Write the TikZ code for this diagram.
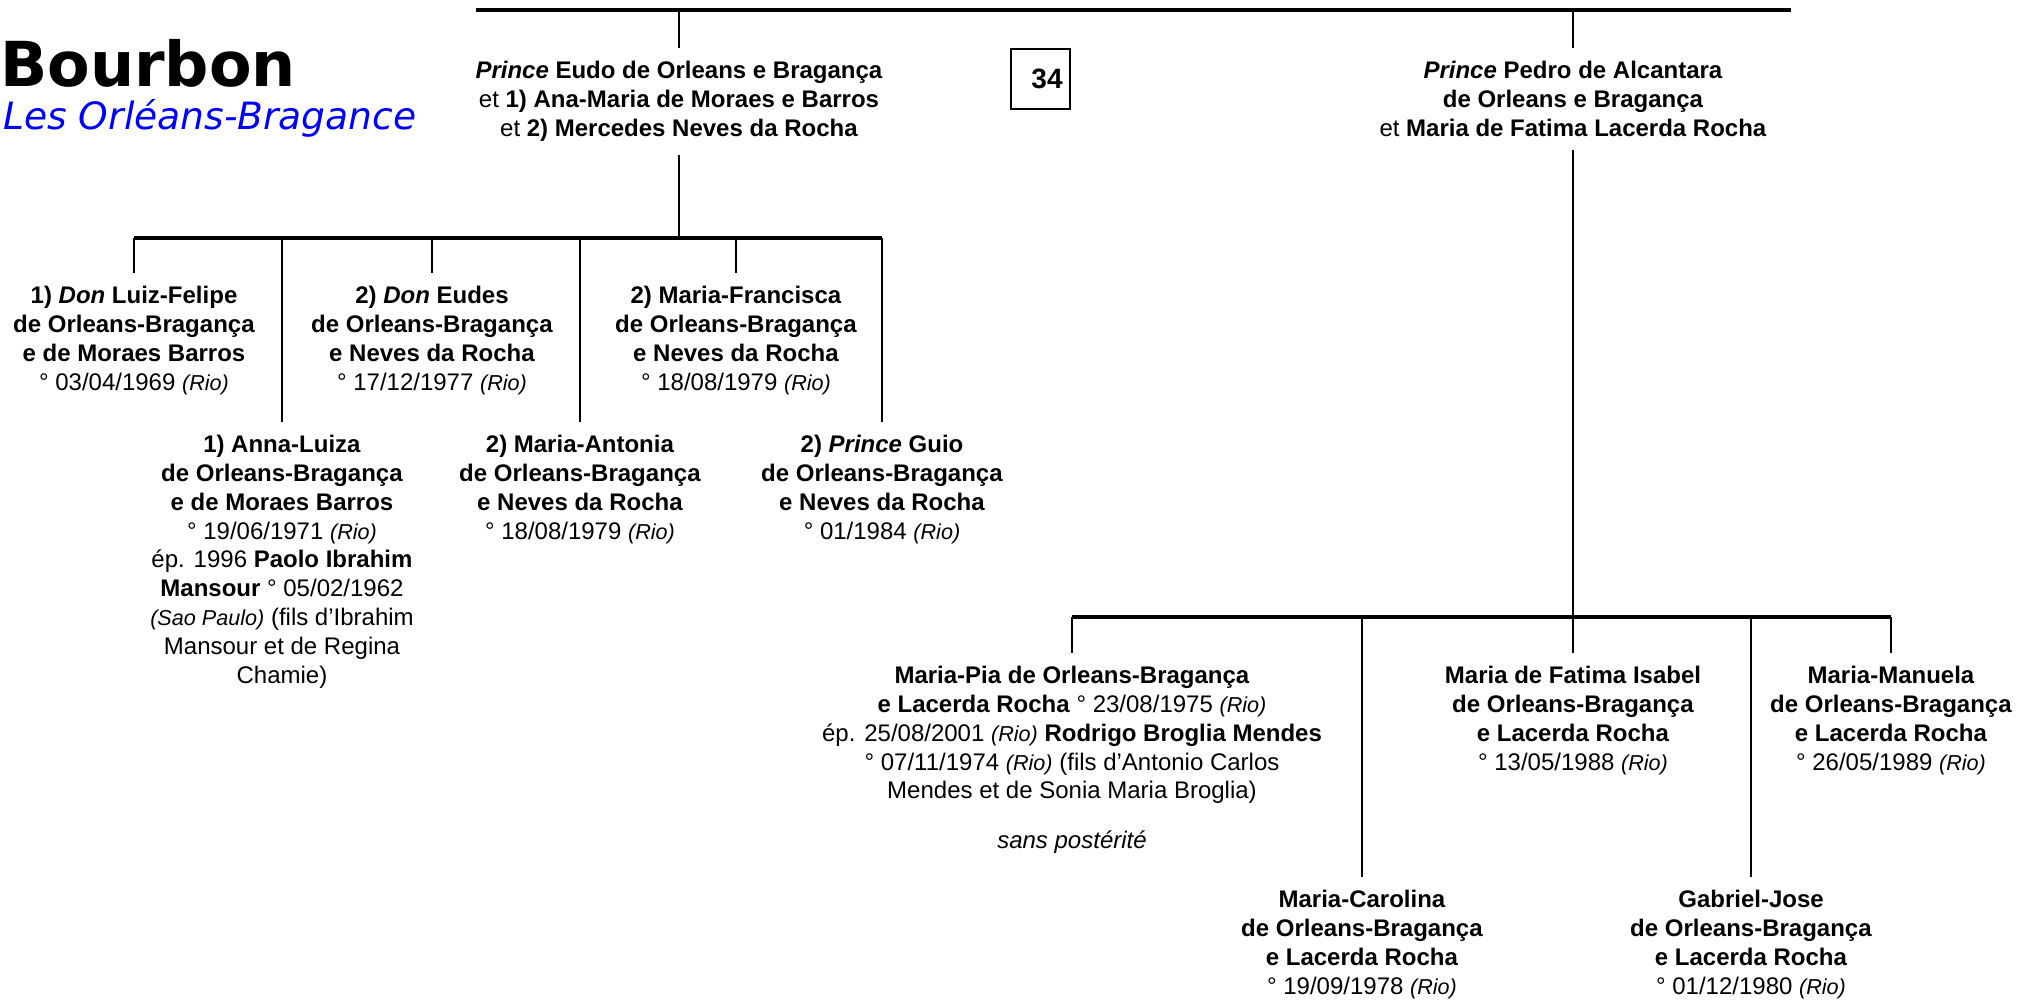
\documentclass[tikz,border=0pt]{standalone}
\usepackage{fontspec}
\setmainfont{Liberation Sans}
\newfontfamily\titlefont[BoldFont={DejaVu Sans Bold},ItalicFont={DejaVu Sans Oblique}]{DejaVu Sans}
\usetikzlibrary{positioning}
\definecolor{titleblue}{RGB}{0,0,255}
\newcommand{\lieu}[1]{{\fontsize{10.8}{12}\selectfont\itshape(#1)}}
\newcommand{\rang}[1]{\textbf{\textit{#1}}}
\tikzset{
  pers/.style={align=center,anchor=north,inner xsep=2pt,inner ysep=6.5pt,
    font=\fontsize{12}{14.4}\selectfont},
  bar/.style={line width=1.6pt},
  lien/.style={line width=1.1pt},
  numbox/.style={draw,line width=0.8pt,minimum width=29.5pt,minimum height=30pt,
    inner sep=0pt,font=\bfseries\fontsize{14}{16}\selectfont},
}

\begin{document}
\begin{tikzpicture}[x=0.5pt,y=-0.5pt]
  \useasboundingbox (0,0) rectangle (2017,1000);
  % title
  \node[anchor=base west,inner sep=0pt,font=\titlefont\bfseries\fontsize{31}{36}\selectfont]
       (bourbon) at (0,87) {Bourbon};
  \node[anchor=base west,inner sep=0pt,text=titleblue,
        font=\titlefont\itshape\fontsize{18.8}{22}\selectfont]
       (branche) at (3,130) {Les Orléans-Bragance};
  \node[numbox] (num) at (1040.5,79) {\hspace*{6.5pt}\raisebox{-7pt}{34}};
  % parents
  \node[pers] (eudo) at (679,48)
       {\rang{Prince} \textbf{Eudo de Orleans e Bragança}\\
        et \textbf{1) Ana-Maria de Moraes e Barros}\\
        et \textbf{2) Mercedes Neves da Rocha}};
  \node[pers] (pedro) at (1573,48)
       {\rang{Prince} \textbf{Pedro de Alcantara}\\
        \textbf{de Orleans e Bragança}\\
        et \textbf{Maria de Fatima Lacerda Rocha}};
  \coordinate (topL) at (476,10);
  \coordinate (topR) at (1791,10);
  \draw[bar] (topL) -- (topR);
  \draw[lien] (eudo.north) -- (eudo.north |- topL);
  \draw[lien] (pedro.north) -- (pedro.north |- topL);
  % children of Eudo
  \node[pers] (lf) at (134,273)
       {\textbf{1) \textit{Don} Luiz-Felipe}\\ \textbf{de Orleans-Bragança}\\
        \textbf{e de Moraes Barros}\\ ° 03/04/1969 \lieu{Rio}};
  \node[pers] (eudes) at (432,273)
       {\textbf{2) \textit{Don} Eudes}\\ \textbf{de Orleans-Bragança}\\
        \textbf{e Neves da Rocha}\\ ° 17/12/1977 \lieu{Rio}};
  \node[pers] (mfr) at (736,273)
       {\textbf{2) Maria-Francisca}\\ \textbf{de Orleans-Bragança}\\
        \textbf{e Neves da Rocha}\\ ° 18/08/1979 \lieu{Rio}};
  \node[pers] (al) at (282,422)
       {\textbf{1) Anna-Luiza}\\ \textbf{de Orleans-Bragança}\\
        \textbf{e de Moraes Barros}\\ ° 19/06/1971 \lieu{Rio}\\
        ép. 1996 \textbf{Paolo Ibrahim}\\ \textbf{Mansour} ° 05/02/1962\\
        \lieu{Sao Paulo} (fils d’Ibrahim\\ Mansour et de Regina\\ Chamie)};
  \node[pers] (mant) at (580,422)
       {\textbf{2) Maria-Antonia}\\ \textbf{de Orleans-Bragança}\\
        \textbf{e Neves da Rocha}\\ ° 18/08/1979 \lieu{Rio}};
  \node[pers] (guio) at (882,422)
       {\textbf{2) \textit{Prince} Guio}\\ \textbf{de Orleans-Bragança}\\
        \textbf{e Neves da Rocha}\\ ° 01/1984 \lieu{Rio}};
  \coordinate (barE) at (679,238);
  \draw[bar] (lf.north |- barE) -- (guio.north |- barE);
  \draw[lien] (eudo.south) -- (eudo.south |- barE);
  \foreach \c in {lf,eudes,mfr,al,mant,guio}
    \draw[lien] (\c.north) -- (\c.north |- barE);
  % children of Pedro
  \node[pers] (mpia) at (1072,653)
       {\textbf{Maria-Pia de Orleans-Bragança}\\
        \textbf{e Lacerda Rocha} ° 23/08/1975 \lieu{Rio}\\
        ép. 25/08/2001 \lieu{Rio} \textbf{Rodrigo Broglia Mendes}\\
        ° 07/11/1974 \lieu{Rio} (fils d’Antonio Carlos\\
        Mendes et de Sonia Maria Broglia)\\[10.5pt]
        \textit{sans postérité}};
  \node[pers] (mfat) at (1573,653)
       {\textbf{Maria de Fatima Isabel}\\ \textbf{de Orleans-Bragança}\\
        \textbf{e Lacerda Rocha}\\ ° 13/05/1988 \lieu{Rio}};
  \node[pers] (mman) at (1891,653)
       {\textbf{Maria-Manuela}\\ \textbf{de Orleans-Bragança}\\
        \textbf{e Lacerda Rocha}\\ ° 26/05/1989 \lieu{Rio}};
  \node[pers] (mcar) at (1362,877)
       {\textbf{Maria-Carolina}\\ \textbf{de Orleans-Bragança}\\
        \textbf{e Lacerda Rocha}\\ ° 19/09/1978 \lieu{Rio}};
  \node[pers] (gab) at (1751,877)
       {\textbf{Gabriel-Jose}\\ \textbf{de Orleans-Bragança}\\
        \textbf{e Lacerda Rocha}\\ ° 01/12/1980 \lieu{Rio}};
  \coordinate (barP) at (1573,617);
  \draw[bar] (mpia.north |- barP) -- (mman.north |- barP);
  \draw[lien] (pedro.south) -- (pedro.south |- barP);
  \foreach \c in {mpia,mcar,mfat,gab,mman}
    \draw[lien] (\c.north) -- (\c.north |- barP);
\end{tikzpicture}
\end{document}
